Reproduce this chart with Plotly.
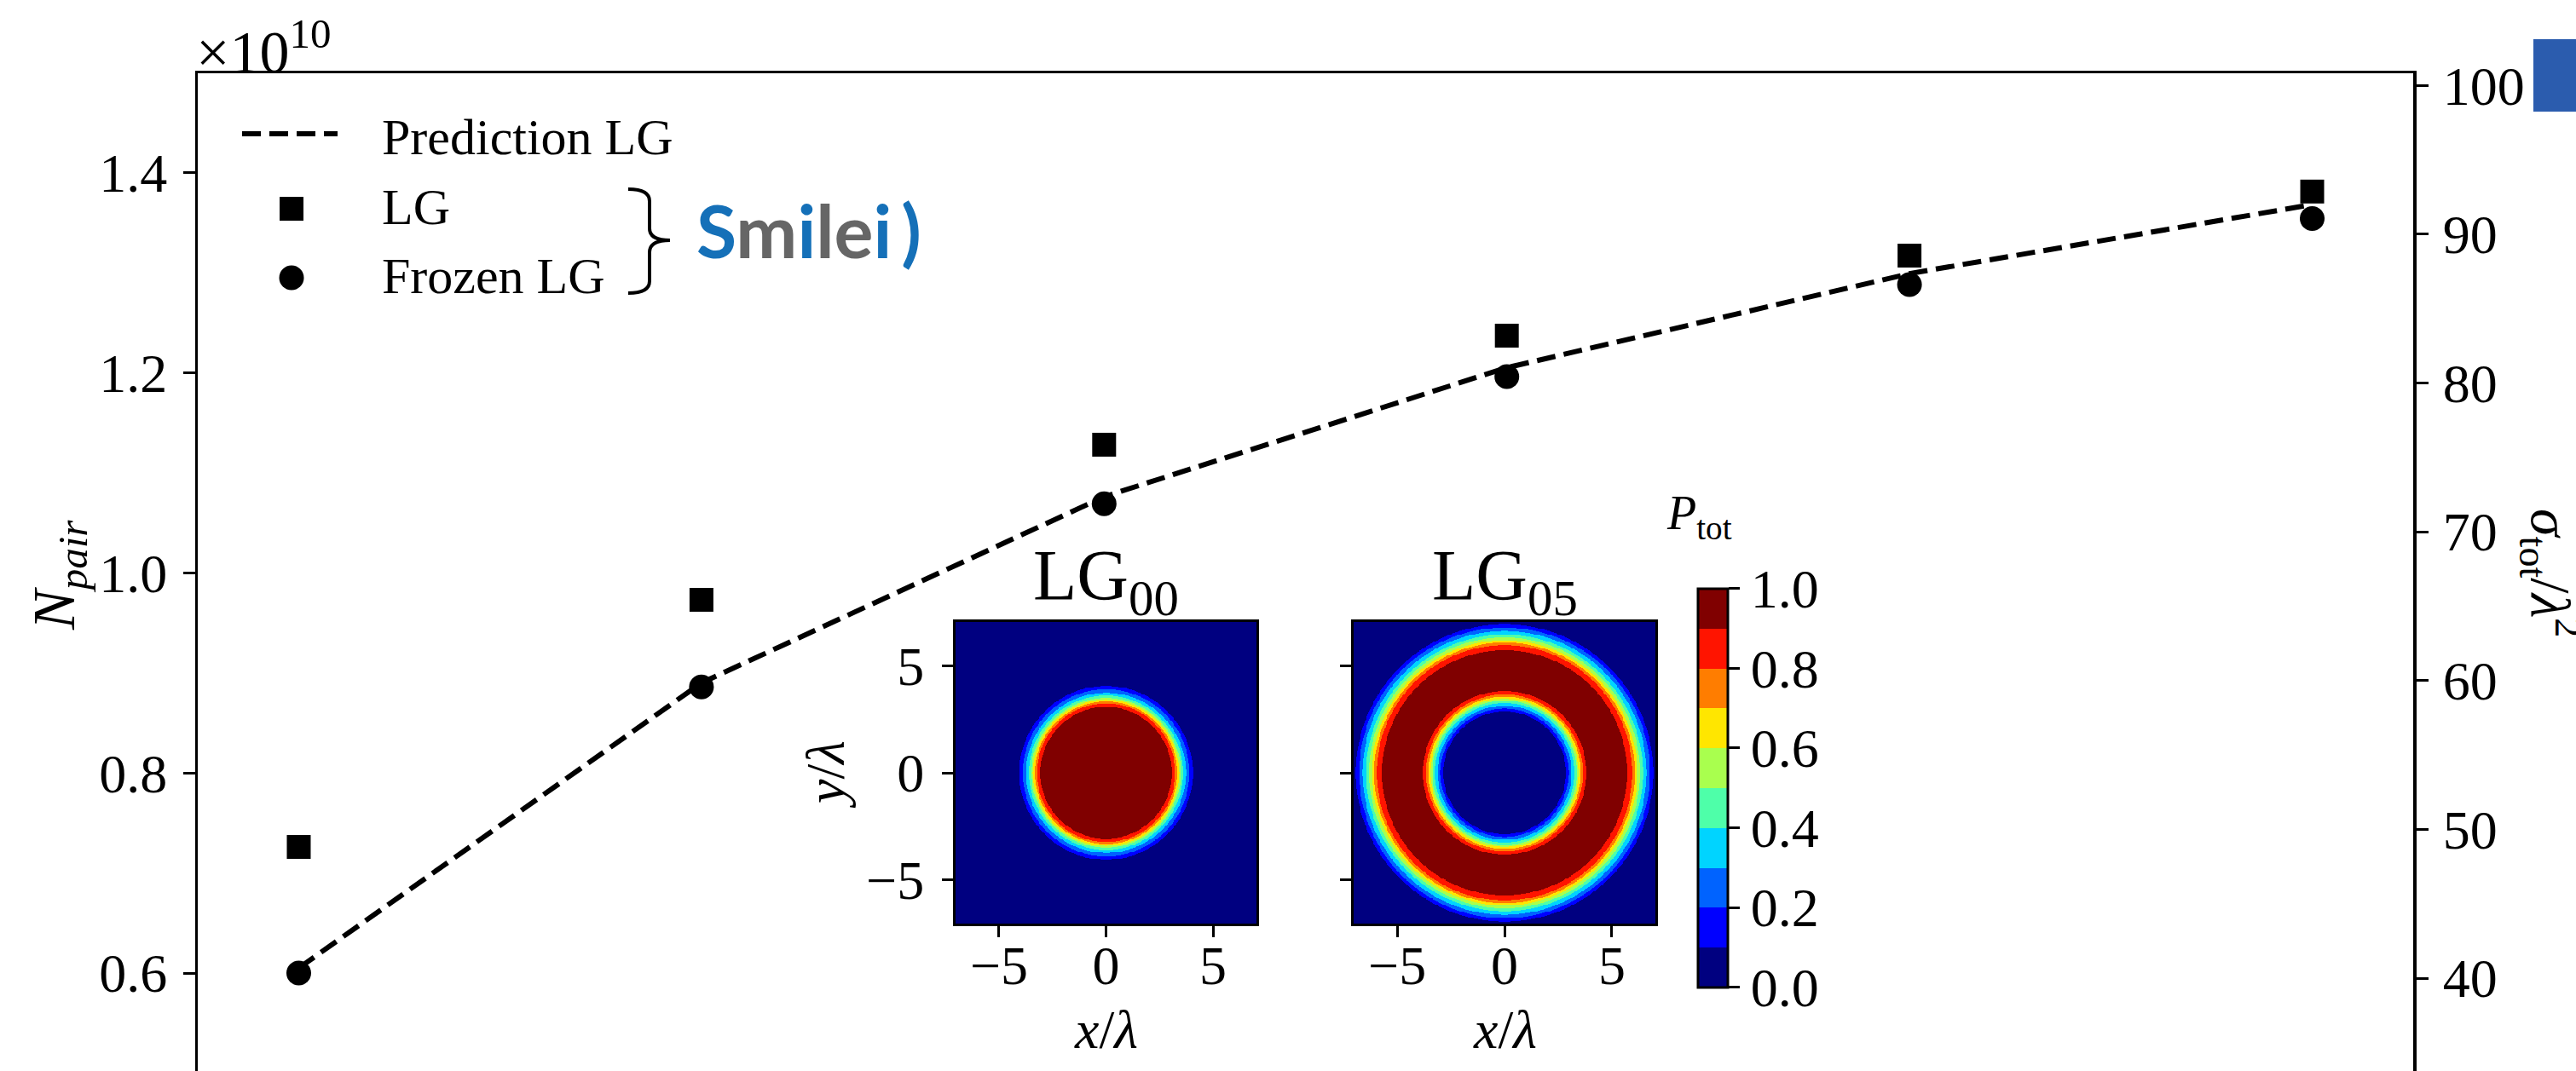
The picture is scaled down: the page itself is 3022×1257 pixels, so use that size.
import numpy as np
import plotly.graph_objects as go

# ---------------- data ----------------
mode_index = [0, 1, 2, 3, 4, 5]
n_pair_lg = [0.726, 0.973, 1.128, 1.237, 1.317, 1.381]          # x 1e10, Smilei LG
n_pair_frozen = [0.600, 0.886, 1.069, 1.196, 1.288, 1.354]      # x 1e10, Smilei frozen LG
n_pair_prediction = [0.605, 0.890, 1.076, 1.205, 1.299, 1.368]  # x 1e10, prediction LG

left_ticks = [0.6, 0.8, 1.0, 1.2, 1.4]
right_ticks = [40, 50, 60, 70, 80, 90, 100]
inset_ticks = [-5, 0, 5]
cbar_ticks = [0.0, 0.2, 0.4, 0.6, 0.8, 1.0]

# radial profiles of P_tot (radius in units of lambda)
lg00_radius = [0.0, 3.07, 3.23, 3.32, 3.41, 3.49, 3.60, 3.73, 3.89, 4.05, 7.5]
lg00_ptot = [1.0, 0.9, 0.8, 0.7, 0.6, 0.5, 0.4, 0.3, 0.2, 0.1, 0.0]
lg05_radius = [0.0, 2.86, 2.99, 3.12, 3.25, 3.36, 3.45, 3.55, 3.65, 3.81, 4.76,
               5.71, 5.95, 6.07, 6.18, 6.31, 6.44, 6.61, 6.77, 6.93, 7.5]
lg05_ptot = [0.0, 0.1, 0.2, 0.3, 0.4, 0.5, 0.6, 0.7, 0.8, 0.9, 1.0,
             0.9, 0.8, 0.7, 0.6, 0.5, 0.4, 0.3, 0.2, 0.1, 0.0]

# ---------------- geometry / styles ----------------
W, H = 3022, 1257
FONT = "Liberation Serif"


def px(x):
    return x / W


def py(y):
    return 1 - y / H


jet10 = ['#000080', '#0000ff', '#0063ff', '#00d4ff', '#4effa9',
         '#a9ff4e', '#ffe600', '#ff7d00', '#ff1400', '#800000']
colorscale = []
for i, c in enumerate(jet10):
    colorscale.append([i / 10, c])
    colorscale.append([(i + 1) / 10, c])

half = 7.03
grid = np.linspace(-half, half, 401)
X, Y = np.meshgrid(grid, grid)
R = np.sqrt(X ** 2 + Y ** 2)
z_lg00 = np.interp(R, lg00_radius, lg00_ptot)
z_lg05 = np.interp(R, lg05_radius, lg05_ptot)

fig = go.Figure()

dash = "22px,10px"
fig.add_trace(go.Scatter(x=mode_index, y=n_pair_prediction, mode="lines",
                         line=dict(color="black", width=6, dash=dash),
                         name="Prediction LG", showlegend=False))
fig.add_trace(go.Scatter(x=mode_index, y=n_pair_lg, mode="markers",
                         marker=dict(symbol="square", size=28, color="black"),
                         name="LG", showlegend=False))
fig.add_trace(go.Scatter(x=mode_index, y=n_pair_frozen, mode="markers",
                         marker=dict(symbol="circle", size=29, color="black"),
                         name="Frozen LG", showlegend=False))
# twin axis carrier
fig.add_trace(go.Scatter(x=[None], y=[None], yaxis="y2", xaxis="x",
                         showlegend=False, hoverinfo="skip"))

fig.add_trace(go.Heatmap(x=grid, y=grid, z=z_lg00, xaxis="x3", yaxis="y3",
                         colorscale=colorscale, zmin=0, zmax=1, showscale=False))
fig.add_trace(go.Heatmap(
    x=grid, y=grid, z=z_lg05, xaxis="x4", yaxis="y4",
    colorscale=colorscale, zmin=0, zmax=1, showscale=True,
    colorbar=dict(
        x=px(1992), xanchor="left", xpad=0, ypad=0,
        y=py((690.7 + 1158.6) / 2), yanchor="middle",
        len=468, lenmode="pixels", thickness=35, thicknessmode="pixels",
        outlinewidth=3, outlinecolor="black",
        tickvals=cbar_ticks, ticktext=[f"{v:.1f}" for v in cbar_ticks],
        ticks="outside", ticklen=13, tickwidth=3, tickcolor="black",
        tickfont=dict(family=FONT, size=64, color="black"),
    )))

axis_common = dict(showgrid=False, zeroline=False, linecolor="black", automargin=False,
                   tickcolor="black", tickfont=dict(family=FONT, size=64, color="black"))

fig.update_layout(
    width=W, height=H, autosize=False,
    margin=dict(l=0, r=0, t=0, b=0, pad=0, autoexpand=False),
    paper_bgcolor="white", plot_bgcolor="white",
    font=dict(family=FONT, color="black"),
    showlegend=False,
    xaxis=dict(domain=[px(232), px(2831)], range=[-0.2508, 5.2508], side="top",
               showline=True, linewidth=3, ticks="", showticklabels=False, automargin=False,
               showgrid=False, zeroline=False, linecolor="black", anchor="y"),
    yaxis=dict(domain=[0, py(86)], range=[0.5021, 1.4992], showline=True, linewidth=3,
               ticks="outside", ticklen=14, tickwidth=3, tickvals=left_ticks,
               ticktext=[f"{v:.1f}" for v in left_ticks], ticklabelstandoff=6,
               anchor="x", **axis_common),
    yaxis2=dict(domain=[0, py(86)], range=[33.76, 100.81], overlaying="y", side="right",
                showline=True, linewidth=4, ticks="outside", ticklen=14, tickwidth=3,
                tickvals=right_ticks, ticktext=[str(v) for v in right_ticks],
                ticklabelstandoff=4, anchor="x", **axis_common),
    xaxis3=dict(domain=[px(1121), px(1474)], range=[-half, half], anchor="y3",
                showline=True, mirror=True, linewidth=3, ticks="outside", ticklen=13,
                tickwidth=3, tickvals=inset_ticks,
                ticktext=["\u22125", "0", "5"], ticklabelstandoff=-22, **axis_common),
    yaxis3=dict(domain=[py(1084), py(730)], range=[-half, half], anchor="x3",
                showline=True, mirror=True, linewidth=3, ticks="outside", ticklen=13,
                tickwidth=3, tickvals=inset_ticks,
                ticktext=["\u22125", "0", "5"], ticklabelstandoff=8, **axis_common),
    xaxis4=dict(domain=[px(1588), px(1942)], range=[-half, half], anchor="y4",
                showline=True, mirror=True, linewidth=3, ticks="outside", ticklen=13,
                tickwidth=3, tickvals=inset_ticks,
                ticktext=["\u22125", "0", "5"], ticklabelstandoff=-22, **axis_common),
    yaxis4=dict(domain=[py(1084), py(730)], range=[-half, half], anchor="x4",
                showline=True, mirror=True, linewidth=3, ticks="outside", ticklen=13,
                tickwidth=3, tickvals=inset_ticks, showticklabels=False, **axis_common),
)

ann = []


def text(x, y, s, size, xanchor="center", yanchor="middle", angle=0, **kw):
    ann.append(dict(x=px(x), y=py(y), xref="paper", yref="paper", text=s,
                    showarrow=False, xanchor=xanchor, yanchor=yanchor,
                    textangle=angle, font=dict(family=kw.get("family", FONT), size=size,
                                               color=kw.get("color", "black"))))


text(228, 102, "\u00d710<sup>10</sup>", 70, xanchor="left", yanchor="bottom")
text(69, 675, "<i>N</i><sub><i>pair</i></sub>", 70, angle=-90)
text(2993, 672, "<i>\u03c3</i><sub>tot</sub>/<i>\u03bb</i><sup>2</sup>", 66, angle=90)

# legend
text(446, 161, "Prediction LG", 60, xanchor="left")
text(446, 243, "LG", 60, xanchor="left")
text(446, 324, "Frozen LG", 60, xanchor="left")

# logo
text(815, 269,
     "<b><span style='color:#1570b8'>S</span><span style='color:#666666'>m</span>"
     "<span style='color:#1570b8'>i</span><span style='color:#666666'>le</span>"
     "<span style='color:#1570b8'>i\u2009)</span></b>",
     86, xanchor="left", family="Lato")

# inset labels
text(1297, 682, "LG<sub>00</sub>", 84)
text(1765, 682, "LG<sub>05</sub>", 84)
text(1297, 1208, "<i>x</i>/<i>\u03bb</i>", 64)
text(1765, 1208, "<i>x</i>/<i>\u03bb</i>", 64)
text(968, 909, "<i>y</i>/<i>\u03bb</i>", 64, angle=-90)
text(1953, 606, "<i>P</i><sub>tot</sub>", 56, xanchor="left")

fig.update_layout(annotations=ann)

shapes = []
# legend samples
shapes.append(dict(type="line", xref="paper", yref="paper",
                   x0=px(284), x1=px(396), y0=py(157), y1=py(157),
                   line=dict(color="black", width=6, dash=dash)))
shapes.append(dict(type="rect", xref="paper", yref="paper",
                   x0=px(328), x1=px(356), y0=py(259), y1=py(231),
                   fillcolor="black", line=dict(width=0)))
shapes.append(dict(type="circle", xref="paper", yref="paper",
                   x0=px(327.5), x1=px(356.5), y0=py(340.5), y1=py(311.5),
                   fillcolor="black", line=dict(width=0)))
# brace
pts = [("M", 737, 222), ("Q", 762, 222, 762, 236), ("L", 762, 268),
       ("Q", 762, 282, 786, 282), ("Q", 762, 282, 762, 296), ("L", 762, 330),
       ("Q", 762, 344, 737, 344)]
path = ""
for p in pts:
    cmd = p[0]
    coords = p[1:]
    segs = []
    for i in range(0, len(coords), 2):
        segs.append(f"{px(coords[i]):.5f},{py(coords[i + 1]):.5f}")
    path += cmd + " " + " ".join(segs) + " "
shapes.append(dict(type="path", xref="paper", yref="paper", path=path.strip(),
                   line=dict(color="black", width=4)))
# blue block at top right edge
shapes.append(dict(type="rect", xref="paper", yref="paper",
                   x0=px(2972), x1=px(3030), y0=py(131), y1=py(46),
                   fillcolor="#2b5cae", line=dict(width=0)))
fig.update_layout(shapes=shapes)

fig.write_html("out.html")
